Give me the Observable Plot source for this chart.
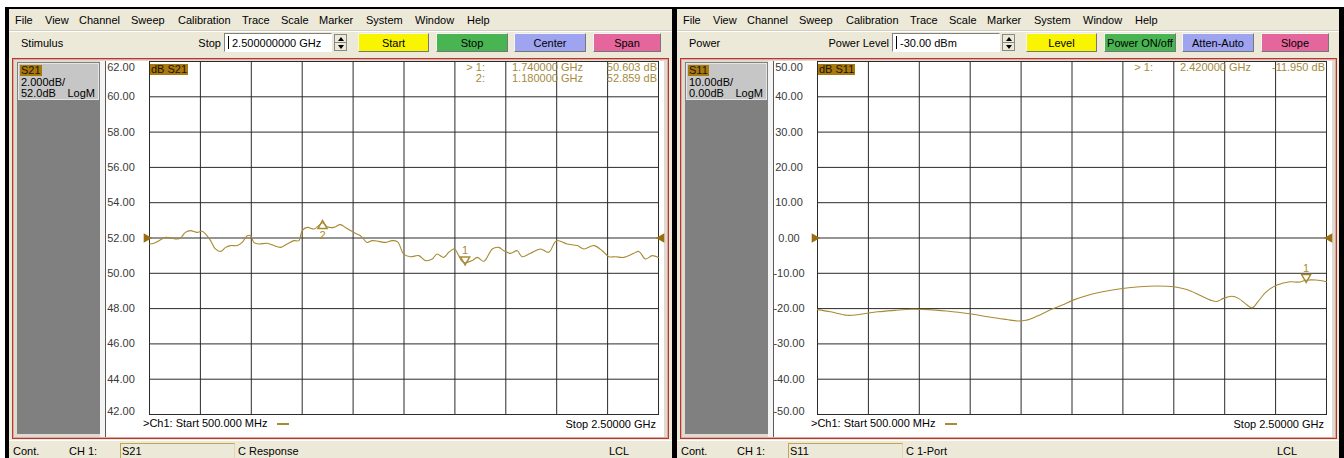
<!DOCTYPE html>
<html><head><meta charset="utf-8">
<script src="https://cdn.jsdelivr.net/npm/d3@7"></script>
<script src="https://cdn.jsdelivr.net/npm/@observablehq/plot@0.6"></script>
<style>
html,body{margin:0;padding:0;background:#fff;}
#root{position:relative;width:1344px;height:458px;overflow:hidden;font-family:"Liberation Sans",Arial,sans-serif;font-size:11px;color:#000;background:#000;}
.a{position:absolute;white-space:nowrap;line-height:1;}
.win{position:absolute;top:9px;height:449px;background:#ece9d8;overflow:hidden;}
.btn{position:absolute;top:24px;height:19px;line-height:19px;text-align:center;border:1px solid;border-color:#f4f4f4 #777 #777 #f4f4f4;box-sizing:border-box;}
</style></head><body><div id="root"></div>
<script>
// ---------- data ----------
const xGridGHz = [0.5, 0.7, 0.9, 1.1, 1.3, 1.5, 1.7, 1.9, 2.1, 2.3, 2.5];
const s21YTicks = [62, 60, 58, 56, 54, 52, 50, 48, 46, 44, 42];
const s11YTicks = [50, 40, 30, 20, 10, 0, -10, -20, -30, -40, -50];

const s21Freq = [0.501,0.517,0.537,0.563,0.583,0.609,0.622,0.641,0.661,0.687,0.707,0.720,0.740,0.759,0.779,0.799,0.818,0.845,0.864,0.884,0.897,0.910,0.929,0.962,0.988,1.015,1.041,1.067,1.087,1.100,1.120,1.146,1.165,1.180,1.198,1.224,1.250,1.270,1.290,1.310,1.329,1.355,1.375,1.401,1.427,1.454,1.475,1.499,1.526,1.558,1.584,1.611,1.630,1.656,1.676,1.698,1.715,1.728,1.740,1.768,1.788,1.814,1.847,1.872,1.892,1.918,1.945,1.964,1.997,2.036,2.069,2.099,2.141,2.181,2.207,2.246,2.279,2.305,2.331,2.364,2.403,2.423,2.449,2.475,2.500];
const s21dB = [51.66,51.70,51.85,52.04,52.00,51.94,52.00,52.32,52.42,52.32,52.38,52.23,51.85,51.38,51.24,51.47,51.57,51.57,51.75,52.13,52.13,51.75,51.66,51.70,51.57,51.47,51.66,51.85,51.85,52.42,52.60,52.51,52.70,52.86,52.64,52.60,52.76,52.60,52.42,52.26,52.13,51.75,51.85,51.81,51.75,51.85,51.78,51.09,50.94,51.00,50.72,50.81,51.09,50.90,51.19,51.38,51.00,50.68,50.60,50.72,50.90,50.68,51.38,51.47,51.28,51.13,51.28,50.94,51.13,51.38,51.19,51.85,51.66,51.57,51.38,51.57,51.28,50.94,50.94,50.90,51.13,51.24,50.81,51.00,50.90];

const s11Freq = [0.500,0.551,0.618,0.669,0.736,0.804,0.871,0.939,1.006,1.091,1.175,1.243,1.285,1.319,1.361,1.411,1.462,1.504,1.563,1.631,1.698,1.766,1.833,1.901,1.951,2.002,2.044,2.069,2.095,2.128,2.154,2.188,2.208,2.230,2.264,2.306,2.357,2.390,2.420,2.458,2.500];
const s11dB = [-20.3,-20.9,-21.9,-21.6,-20.9,-20.5,-20.2,-20.3,-20.7,-21.4,-22.4,-23.1,-23.5,-23.3,-22.2,-20.5,-19.0,-17.6,-16.2,-15.1,-14.3,-13.8,-13.6,-13.8,-14.6,-16.2,-17.6,-18.0,-17.1,-16.5,-17.1,-19.0,-19.8,-18.1,-15.2,-13.3,-12.4,-12.5,-11.95,-11.9,-12.4];

const s21MarkerId = ["1", "2"];
const s21MarkerFreq = [1.74, 1.18];
const s21MarkerdB = [50.603, 52.859];
const s11MarkerId = ["1"];
const s11MarkerFreq = [2.42];
const s11MarkerdB = [-11.95];

const menuItems = ["File","View","Channel","Sweep","Calibration","Trace","Scale","Marker","System","Window","Help"];
const menuX = [6,36,70,122,169,233,272,310,357,406,458];

const leftButtons = ["Start","Stop","Center","Span"];
const rightButtons = ["Level","Power ON/off","Atten-Auto","Slope"];
const buttonColors = ["#f9f400","#48b452","#9ea4f0","#e4669c"];
const buttonX = [349, 427, 505, 584];
const buttonW = [71, 72, 72, 68];

// ---------- style constants ----------
const TRACE = "#a88a34";
const MTEXT = "#a48a3c";
const REF = "#9c6c14";
const GRID = "#2b2b2b";
const LABELBG = "#a8790f";

const root = document.getElementById("root");
function div(parent, cls, css, text){
  const d = document.createElement("div");
  d.className = cls; d.style.cssText = css;
  if (text != null) d.textContent = text;
  parent.appendChild(d); return d;
}
div(root, "a", "left:0;top:0;width:1344px;height:7px;background:#fff;");
div(root, "a", "left:0;top:0;width:5px;height:458px;background:#fff;");

function chart(cfg){
  const data = cfg.freq.map((f, i) => ({f, dB: cfg.dB[i]}));
  const markers = cfg.mFreq.map((f, i) => ({f, dB: cfg.mdB[i], id: cfg.mId[i], active: i === 0}));
  const yt = cfg.yTicks;
  const top = yt[0], bot = yt[yt.length - 1];
  const fmt = d => d.toFixed(2);
  const lab = {frameAnchor: "left", dx: -28.5, textAnchor: "middle", fill: "#3a3a3a"};
  return Plot.plot({
    width: 564, height: 376,
    marginLeft: 49, marginRight: 6, marginTop: 0, marginBottom: 23,
    x: {domain: [0.5, 2.5], axis: null},
    y: {domain: [bot, top], axis: null},
    style: {background: "transparent", fontFamily: "Liberation Sans, Arial, sans-serif", fontSize: "11px", overflow: "visible"},
    marks: [
      Plot.gridX(xGridGHz, {stroke: GRID, strokeOpacity: 1}),
      Plot.gridY(yt, {stroke: GRID, strokeOpacity: 1}),
      Plot.frame({stroke: GRID}),
      Plot.text(yt.slice(1, -1), {y: d => d, text: fmt, ...lab}),
      Plot.text([top], {y: d => d, text: fmt, ...lab, dy: 6}),
      Plot.text([bot], {y: d => d, text: fmt, ...lab, dy: -3}),
      Plot.line(data, {x: "f", y: "dB", stroke: TRACE, strokeWidth: 1.1, curve: "catmull-rom"}),
      Plot.dot([cfg.ref], {y: d => d, frameAnchor: "left", symbol: "triangle", rotate: 90, r: 3.6, fill: REF, stroke: "none", dx: -3}),
      Plot.dot([cfg.ref], {y: d => d, frameAnchor: "right", symbol: "triangle", rotate: -90, r: 3.6, fill: REF, stroke: "none", dx: 3}),
      Plot.dot(markers.filter(m => m.active), {x: "f", y: "dB", symbol: "triangle", rotate: 180, r: 3.4, stroke: TRACE, fill: "none", dy: -3}),
      Plot.text(markers.filter(m => m.active), {x: "f", y: "dB", text: "id", dy: -12, fill: TRACE}),
      Plot.dot(markers.filter(m => !m.active), {x: "f", y: "dB", symbol: "triangle", r: 3.4, stroke: TRACE, fill: "none", dy: 3}),
      Plot.text(markers.filter(m => !m.active), {x: "f", y: "dB", text: "id", dy: 13, fill: TRACE})
    ]
  });
}

function makeWindow(cfg){
  const w = div(root, "win", `left:${cfg.left}px;width:${cfg.width}px;`);
  menuItems.forEach((m, i) => div(w, "a", `left:${menuX[i]}px;top:6px;`, m));
  div(w, "a", "left:0;top:21px;width:100%;height:1px;background:#d0cdbf;");
  div(w, "a", "left:0;top:22px;width:100%;height:1px;background:#fff;");
  div(w, "a", "left:12px;top:29px;", cfg.tool);
  div(w, "a", "right:" + (cfg.width - 212) + "px;top:29px;", cfg.inputLabel);
  const inp = div(w, "a", "left:215px;top:24px;width:108px;height:19px;background:#fff;border:1px solid;border-color:#808080 #fff #fff #808080;box-sizing:border-box;");
  div(inp, "a", "left:3px;top:2px;width:1px;height:13px;background:#000;");
  div(inp, "a", "left:7px;top:4px;", cfg.inputText);
  const sp = div(w, "a", "left:325px;top:25px;width:13px;height:17px;background:#ece9d8;border:1px solid #888;box-sizing:border-box;");
  div(sp, "a", "left:3px;top:2px;width:0;height:0;border-left:3px solid transparent;border-right:3px solid transparent;border-bottom:4px solid #000;");
  div(sp, "a", "left:0;top:7px;width:11px;height:1px;background:#888;");
  div(sp, "a", "left:3px;top:10px;width:0;height:0;border-left:3px solid transparent;border-right:3px solid transparent;border-top:4px solid #000;");
  cfg.buttons.forEach((b, i) => div(w, "btn", `left:${buttonX[i]}px;width:${buttonW[i]}px;background:${buttonColors[i]};`, b));
  div(w, "a", "left:3px;top:49px;width:657px;height:381px;border:1px solid #b03a32;box-shadow:inset 0 0 0 1px #e7a49c;background:#dedbd2;box-sizing:border-box;");
  div(w, "a", "left:8px;top:53px;width:83px;height:372px;background:#808080;");
  const box = div(w, "a", "left:9px;top:54px;width:81px;height:37px;background:#c6c6c6;border:1px solid #e6e6e6;box-sizing:border-box;");
  div(box, "a", `left:1px;top:1px;padding:0 1px;background:${LABELBG};height:11px;line-height:11px;color:#1e1300;`, cfg.param);
  div(box, "a", "left:2px;top:13px;", cfg.scaleText);
  div(box, "a", "left:2px;top:24px;", cfg.refText);
  div(box, "a", "right:3px;top:24px;", "LogM");
  const white = div(w, "a", "left:91px;top:52px;width:564px;height:376px;background:#fff;");
  white.appendChild(chart(cfg));
  div(w, "a", "left:91px;top:52px;width:5px;height:376px;background:#f4f4f4;");
  div(w, "a", "left:96px;top:52px;width:1px;height:376px;background:#5a5a5a;");
  div(w, "a", `left:141px;top:55px;padding:0 1px;height:11px;line-height:11px;background:${LABELBG};color:#1e1300;`, "dB " + cfg.param);
  cfg.mFreq.forEach((f, i) => {
    const y = 53 + i * 11;
    div(w, "a", `right:${cfg.width - 476}px;top:${y}px;color:${MTEXT};`, (i === 0 ? "> " : "") + cfg.mId[i] + ":");
    div(w, "a", `left:503px;top:${y}px;color:${MTEXT};`, f.toFixed(6) + " GHz");
    div(w, "a", `right:${cfg.width - 648}px;top:${y}px;color:${MTEXT};`, cfg.mdB[i].toFixed(3) + " dB");
  });
  div(w, "a", "left:134px;top:409px;", ">Ch1: Start  500.000 MHz");
  div(w, "a", `left:268px;top:414px;width:12px;height:2px;background:${TRACE};`);
  div(w, "a", `right:${cfg.width - 647}px;top:410px;`, "Stop  2.50000 GHz");
  div(w, "a", "left:0;top:431px;width:100%;height:1px;background:#fff;");
  div(w, "a", "left:4px;top:437px;", "Cont.");
  div(w, "a", "left:60px;top:437px;", "CH 1:");
  div(w, "a", "left:111px;top:434px;width:115px;height:18px;border:1px solid #c4a552;border-right-color:#e6d7a8;border-bottom:none;box-sizing:border-box;");
  div(w, "a", "left:113px;top:437px;", cfg.param);
  div(w, "a", "left:229px;top:437px;", cfg.status);
  div(w, "a", "left:600px;top:437px;", "LCL");
}

makeWindow({
  left: 9, width: 663, tool: "Stimulus", inputLabel: "Stop", inputText: "2.500000000 GHz",
  buttons: leftButtons, param: "S21", scaleText: "2.000dB/", refText: "52.0dB", ref: 52,
  yTicks: s21YTicks, freq: s21Freq, dB: s21dB,
  mId: s21MarkerId, mFreq: s21MarkerFreq, mdB: s21MarkerdB, status: "C  Response"
});
makeWindow({
  left: 677, width: 662, tool: "Power", inputLabel: "Power Level", inputText: "-30.00 dBm",
  buttons: rightButtons, param: "S11", scaleText: "10.00dB/", refText: "0.00dB", ref: 0,
  yTicks: s11YTicks, freq: s11Freq, dB: s11dB,
  mId: s11MarkerId, mFreq: s11MarkerFreq, mdB: s11MarkerdB, status: "C  1-Port"
});
</script></body></html>
